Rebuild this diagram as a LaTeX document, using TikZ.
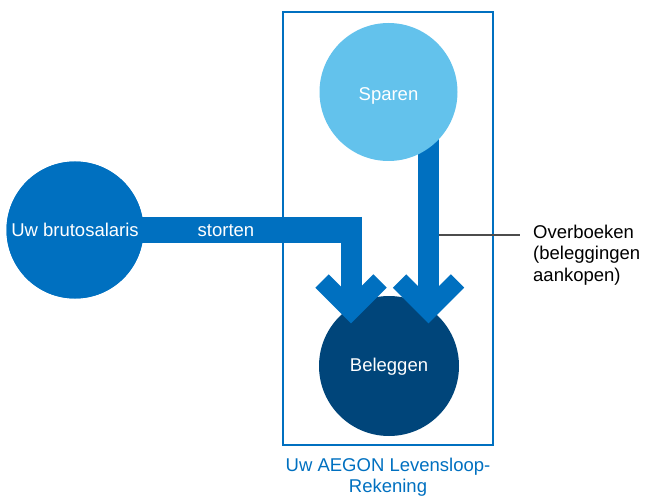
\documentclass[tikz,border=0pt]{standalone}
\usepackage{fontspec}
\setmainfont{Liberation Sans}
\usepackage{tikz}
\usetikzlibrary{positioning}

\definecolor{midblue}{RGB}{0,112,192}
\definecolor{lightblue}{RGB}{99,194,236}
\definecolor{darkblue}{RGB}{0,69,122}

\tikzset{
  labeltext/.style={font=\fontsize{18.5}{21.5}\selectfont},
  pot/.style={circle, inner sep=0pt, minimum size=#1, text=white, labeltext},
  shaft/.style={draw=midblue, line width=21pt},
  chevron/.style={draw=midblue, line width=19pt, line join=miter},
}

\begin{document}
\begin{tikzpicture}[x=1pt, y=-1pt]
    \useasboundingbox (0,0) rectangle (645,497);
    % account frame
    \node[draw=midblue, line width=2pt, minimum width=210pt, minimum height=432pt, inner sep=0pt] (box) at (388,228.5) {};
    \node[text=midblue, align=center, labeltext, below=9pt of box] (boxlabel) {Uw AEGON Levensloop-\\Rekening};
    % shafts first, circles on top
    \coordinate (c1) at (351,230);
    \coordinate (tip1) at (351,300);
    \coordinate (tip2) at (428.5,300);
    \node[pot=140pt, fill=darkblue] (beleggen) at (389,366) {};
    \node[pot=137pt, fill=midblue] (salaris) at (75,230) {};
    \draw[draw=midblue, line width=26pt] (salaris.center) -- (362,230);
    \draw[shaft] (c1) ++(0,-13) -- (tip1);
    \draw[shaft] (428.5,92) -- (tip2);
    \draw[chevron] (322,281) -- (351,310) -- (380,281);
    \draw[chevron] (399.5,281) -- (428.5,310) -- (457.5,281);
    \node[pot=137pt, fill=midblue] at (salaris) {Uw brutosalaris};
    \node[pot=138pt, fill=lightblue] (sparen) at (388.5,92) {};
    \node[text=white, labeltext] at ([yshift=-4pt]sparen.center) {Sparen};
    \node[text=white, labeltext] at ([yshift=-1pt]beleggen.center) {Beleggen};
    \node[text=white, labeltext] (storten) at (226,231) {storten};
    % side note
    \node[anchor=west, align=left, labeltext, inner sep=0pt] (note) at (533,255) {Overboeken\\(beleggingen\\aankopen)};
    \coordinate (overb) at (439,235);
    \draw[draw=black!70, line width=1.2pt] (overb) -- ([xshift=-13pt]overb -| note.west);
  \end{tikzpicture}
\end{document}
